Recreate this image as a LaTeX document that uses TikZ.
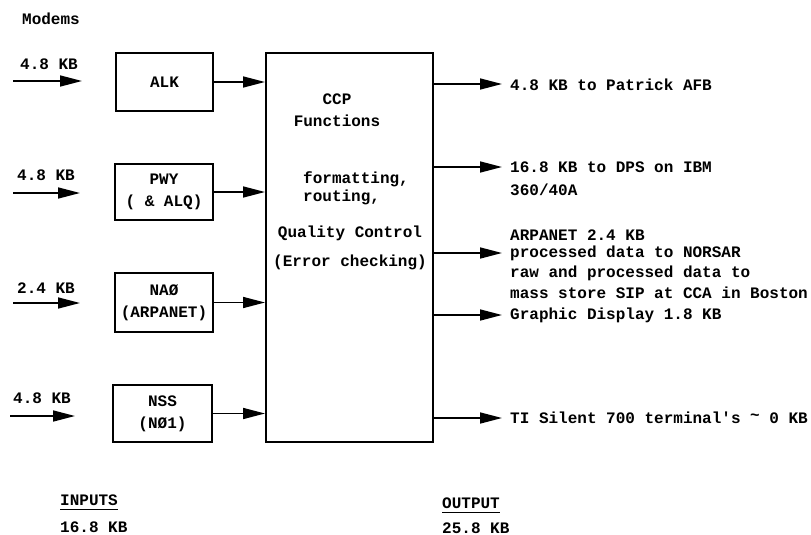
\documentclass[tikz,border=0pt]{standalone}
\usepackage{fontspec}
\setmainfont[Ligatures=TeXOff]{Liberation Mono}
\usetikzlibrary{arrows.meta}
\begin{document}
\begin{tikzpicture}[x=1pt,y=-1pt,
  txt/.style={inner sep=0pt,font=\fontsize{16}{18}\selectfont\bfseries},
  box/.style={draw,line width=2pt,inner sep=0pt,align=center,font=\fontsize{16}{22}\selectfont\bfseries},
  arr/.style={line width=1.6pt,-{Triangle[length=22pt,width=11pt]}},
]
\useasboundingbox (0,0) rectangle (811,535);
\fill[white] (0,0) rectangle (811,535);

\node[txt,anchor=west] (modems) at (22,19) {Modems};

% input boxes
\node[box,minimum width=97pt,minimum height=58pt] (alk) at (164.5,82) {ALK};
\node[box,minimum width=98pt,minimum height=56pt] (pwy) at (164,192) {PWY\\( \& ALQ)};
\node[box,minimum width=98pt,minimum height=59pt] (nao) at (164,302.5) {NAØ\\(ARPANET)};
\node[box,minimum width=99pt,minimum height=57pt] (nss) at (162.5,413.5) {NSS\\(NØ1)};

% CCP box
\node[draw,line width=2pt,minimum width=167pt,minimum height=389pt,inner sep=0pt] (ccp) at (349.5,247.5) {};
\node[txt] (t1) at (337,99) {CCP};
\node[txt] (t2) at (337,121) {Functions};
\node[txt,anchor=west] (t3) at (303,179) {formatting,};
\node[txt,anchor=west] (t4) at (303,197) {routing,};
\node[txt] (t5) at (350,233) {Quality Control};
\node[txt] (t6) at (350,262) {(Error checking)};

% inputs
\coordinate (i1) at (13,81);
\coordinate (i1e) at (82,81);
\coordinate (i2) at (13,193);
\coordinate (i2e) at (80,193);
\coordinate (i3) at (13,303);
\coordinate (i3e) at (80,303);
\coordinate (i4) at (10,416);
\coordinate (i4e) at (75,416);
\draw[arr] (i1) -- (i1e);
\draw[arr] (i2) -- (i2e);
\draw[arr] (i3) -- (i3e);
\draw[arr] (i4) -- (i4e);
\node[txt,anchor=west] (l1) at (20,64) {4.8 KB};
\node[txt,anchor=west] (l2) at (17,175) {4.8 KB};
\node[txt,anchor=west] (l3) at (17,288) {2.4 KB};
\node[txt,anchor=west] (l4) at (13,398) {4.8 KB};

% box to CCP
\draw[arr] (alk.east) -- (alk.east -| ccp.west);
\draw[arr] (pwy.east) -- (pwy.east -| ccp.west);
\draw[arr] (nao.east) -- (nao.east -| ccp.west);
\draw[arr] (nss.east) -- (nss.east -| ccp.west);

% outputs
\coordinate (o1) at (502,84);
\coordinate (o2) at (502,167);
\coordinate (o3) at (502,253);
\coordinate (o4) at (502,315);
\coordinate (o5) at (502,418);
\draw[arr] (o1 -| ccp.east) -- (o1);
\draw[arr] (o2 -| ccp.east) -- (o2);
\draw[arr] (o3 -| ccp.east) -- (o3);
\draw[arr] (o4 -| ccp.east) -- (o4);
\draw[arr] (o5 -| ccp.east) -- (o5);
\node[txt,anchor=west] (r1) at (510,85) {4.8 KB to Patrick AFB};
\node[txt,anchor=west] (r2) at (510,167) {16.8 KB to DPS on IBM};
\node[txt,anchor=west] (r2b) at (510,190) {360/40A};
\node[txt,anchor=west] (r3a) at (510,235) {ARPANET 2.4 KB};
\node[txt,anchor=west] (r3) at (510,253) {processed data to NORSAR};
\node[txt,anchor=west] (r3b) at (510,273) {raw and processed data to};
\node[txt,anchor=west] (r3c) at (510,293) {mass store SIP at CCA in Boston};
\node[txt,anchor=west] (r4) at (510,315) {Graphic Display 1.8 KB};
\node[txt,anchor=west] (r5) at (510,418) {TI Silent 700 terminal's \raisebox{3pt}{\char"007E} 0 KB};

% totals
\node[txt,anchor=west] (inp) at (60,500) {INPUTS};
\draw[line width=1pt] (inp.south west) ++(0,4) -- ([yshift=-4pt]inp.south east);
\node[txt,anchor=west] (inpv) at (60,527) {16.8 KB};
\node[txt,anchor=west] (outp) at (442,503) {OUTPUT};
\draw[line width=1pt] (outp.south west) ++(0,4) -- ([yshift=-4pt]outp.south east);
\node[txt,anchor=west] (outv) at (442,528) {25.8 KB};
\end{tikzpicture}
\end{document}
